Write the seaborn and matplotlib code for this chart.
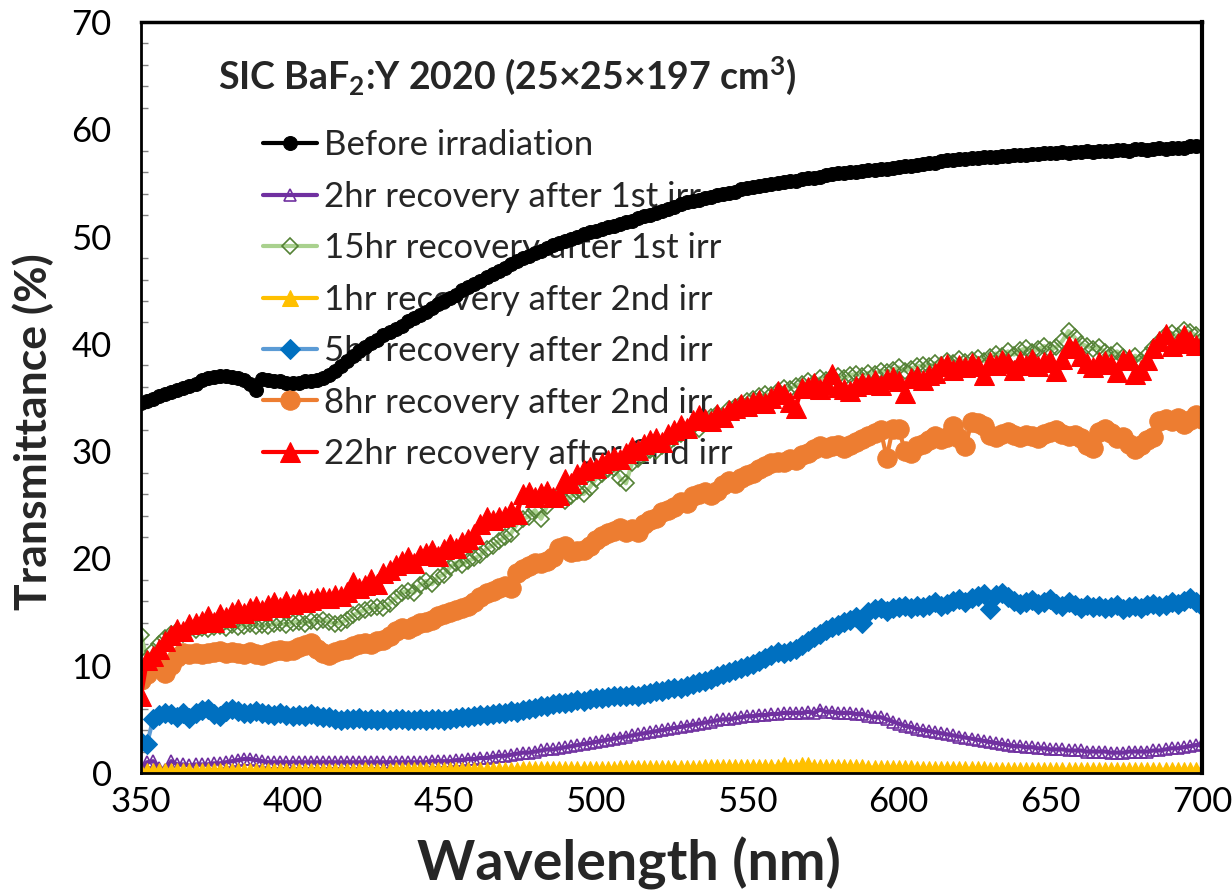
import numpy as np
import pandas as pd
import matplotlib
matplotlib.use("Agg")
import matplotlib.pyplot as plt
from matplotlib.ticker import MultipleLocator
import seaborn as sns

# ---------------- data (2 nm step, 350-700 nm) ----------------
wavelength = list(range(350, 701, 2))

before_irr = [
    34.5, 34.7, 34.9, 35.1, 35.3, 35.5, 35.7, 35.9, 36.1, 36.3,
    36.6, 36.8, 36.9, 37.0, 37.0, 36.9, 36.8, 36.6, 36.3, 35.7,
    36.7, 36.6, 36.5, 36.5, 36.4, 36.4, 36.4, 36.5, 36.5, 36.6,
    36.8, 37.1, 37.5, 37.9, 38.4, 38.9, 39.3, 39.7, 40.1, 40.4,
    40.8, 41.1, 41.4, 41.7, 42.1, 42.4, 42.7, 43.0, 43.3, 43.7,
    44.0, 44.3, 44.6, 45.0, 45.3, 45.6, 45.9, 46.2, 46.5, 46.8,
    47.1, 47.4, 47.7, 48.0, 48.2, 48.5, 48.7, 48.9, 49.2, 49.4,
    49.6, 49.8, 50.0, 50.2, 50.4, 50.5, 50.7, 50.9, 51.0, 51.2,
    51.4, 51.5, 51.7, 51.9, 52.0, 52.2, 52.4, 52.6, 52.8, 53.0,
    53.2, 53.3, 53.4, 53.6, 53.7, 53.9, 54.0, 54.1, 54.2, 54.4,
    54.5, 54.6, 54.7, 54.8, 54.9, 55.0, 55.1, 55.2, 55.2, 55.4,
    55.5, 55.5, 55.6, 55.7, 55.8, 55.9, 55.9, 56.0, 56.0, 56.1,
    56.2, 56.2, 56.3, 56.3, 56.4, 56.5, 56.6, 56.6, 56.7, 56.8,
    56.9, 56.9, 57.0, 57.1, 57.1, 57.2, 57.2, 57.3, 57.3, 57.4,
    57.4, 57.4, 57.5, 57.5, 57.6, 57.6, 57.6, 57.7, 57.7, 57.8,
    57.8, 57.8, 57.9, 57.8, 57.9, 57.9, 58.0, 57.9, 58.0, 58.0,
    58.0, 58.1, 58.1, 58.0, 58.2, 58.2, 58.1, 58.2, 58.3, 58.2,
    58.3, 58.3, 58.3, 58.4, 58.4, 58.4,
]

rec_2hr_1st = [
    0.3, 1.0, 1.1, 0.5, 0.3, 1.1, 0.8, 0.8, 0.7, 0.8,
    0.8, 0.8, 0.9, 0.9, 1.0, 1.1, 1.2, 1.3, 1.3, 1.2,
    1.1, 1.0, 1.0, 1.0, 1.0, 1.0, 1.0, 1.0, 1.0, 1.0,
    1.0, 1.0, 1.0, 1.0, 1.0, 1.0, 1.0, 1.0, 1.0, 1.0,
    1.0, 1.0, 1.0, 1.0, 1.0, 1.0, 1.0, 1.0, 1.1, 1.1,
    1.1, 1.1, 1.2, 1.2, 1.3, 1.3, 1.4, 1.4, 1.5, 1.6,
    1.6, 1.7, 1.8, 1.9, 1.9, 2.0, 2.1, 2.2, 2.2, 2.3,
    2.4, 2.5, 2.6, 2.7, 2.8, 2.9, 3.0, 3.1, 3.2, 3.3,
    3.4, 3.5, 3.6, 3.7, 3.8, 3.9, 4.0, 4.1, 4.2, 4.3,
    4.4, 4.5, 4.6, 4.7, 4.8, 4.9, 5.0, 5.0, 5.1, 5.2,
    5.3, 5.3, 5.4, 5.4, 5.5, 5.5, 5.6, 5.6, 5.6, 5.6,
    5.7, 5.6, 5.9, 5.7, 5.7, 5.6, 5.6, 5.6, 5.5, 5.5,
    5.3, 5.2, 5.2, 5.0, 4.8, 4.6, 4.4, 4.3, 4.1, 4.0,
    3.9, 3.8, 3.7, 3.6, 3.5, 3.4, 3.3, 3.2, 3.1, 3.0,
    2.9, 2.8, 2.7, 2.6, 2.5, 2.5, 2.4, 2.4, 2.3, 2.3,
    2.2, 2.2, 2.2, 2.1, 2.1, 2.1, 2.0, 2.0, 2.0, 2.0,
    1.9, 1.9, 1.9, 2.0, 2.0, 2.0, 2.0, 2.1, 2.1, 2.2,
    2.3, 2.3, 2.4, 2.5, 2.6, 2.7,
]

rec_15hr_1st = [
    12.9, 10.6, 11.4, 12.0, 12.6, 13.0, 13.2, 13.0, 13.4, 13.3,
    13.5, 13.4, 13.6, 13.7, 13.5, 13.8, 13.6, 13.7, 13.9, 13.7,
    13.8, 13.7, 13.9, 14.0, 13.8, 14.0, 14.1, 13.9, 14.2, 14.1,
    14.3, 14.1, 13.9, 14.0, 14.3, 14.7, 15.0, 15.2, 15.4, 15.5,
    15.4, 15.8, 16.3, 16.8, 17.0, 16.8, 17.5, 17.9, 17.6, 18.3,
    18.5, 19.2, 19.6, 19.4, 19.8, 20.0, 20.3, 20.9, 21.2, 21.6,
    22.0, 22.3, 23.2, 23.7, 23.9, 24.5, 23.7, 24.9, 25.5, 25.9,
    25.4, 25.8, 26.3, 26.0, 26.6, 27.4, 27.9, 28.3, 28.4, 27.5,
    27.0, 28.9, 29.3, 29.7, 30.1, 30.0, 30.5, 30.8, 31.2, 31.6,
    32.0, 32.3, 32.1, 32.8, 33.2, 33.5, 33.2, 33.9, 34.1, 34.4,
    34.7, 34.9, 35.1, 35.3, 35.2, 35.6, 35.9, 35.8, 36.1, 36.3,
    36.5, 36.4, 36.8, 36.6, 36.9, 37.0, 36.8, 37.1, 37.2, 37.0,
    37.3, 37.2, 37.5, 37.4, 37.6, 37.8, 37.5, 37.7, 37.9, 38.0,
    37.9, 38.2, 38.0, 38.4, 38.2, 38.6, 38.3, 38.5, 38.7, 38.4,
    38.8, 39.1, 38.9, 39.3, 39.0, 39.4, 39.6, 39.2, 39.5, 39.8,
    39.4, 39.7, 40.3, 41.2, 40.6, 40.0, 39.8, 39.5, 39.7, 39.2,
    39.0, 39.3, 38.8, 38.5, 38.9, 38.4, 39.0, 39.6, 40.2, 40.8,
    41.0, 40.7, 41.3, 41.1, 40.8, 40.4,
]

rec_1hr_2nd = [
    0.1, 0.2, 0.2, 0.2, 0.2, 0.2, 0.2, 0.2, 0.2, 0.2,
    0.2, 0.2, 0.2, 0.2, 0.2, 0.2, 0.2, 0.2, 0.2, 0.2,
    0.2, 0.2, 0.2, 0.2, 0.2, 0.2, 0.2, 0.2, 0.2, 0.2,
    0.2, 0.2, 0.2, 0.2, 0.2, 0.2, 0.2, 0.3, 0.2, 0.2,
    0.2, 0.2, 0.3, 0.3, 0.3, 0.3, 0.3, 0.3, 0.3, 0.3,
    0.3, 0.3, 0.3, 0.3, 0.3, 0.3, 0.3, 0.3, 0.3, 0.3,
    0.3, 0.3, 0.3, 0.4, 0.4, 0.4, 0.4, 0.4, 0.4, 0.4,
    0.4, 0.4, 0.4, 0.4, 0.4, 0.4, 0.4, 0.4, 0.4, 0.5,
    0.5, 0.5, 0.5, 0.5, 0.5, 0.5, 0.5, 0.5, 0.5, 0.5,
    0.5, 0.5, 0.5, 0.6, 0.6, 0.6, 0.6, 0.6, 0.6, 0.6,
    0.6, 0.6, 0.6, 0.6, 0.6, 0.6, 0.7, 0.6, 0.6, 0.7,
    0.7, 0.6, 0.6, 0.6, 0.6, 0.6, 0.6, 0.6, 0.6, 0.6,
    0.5, 0.5, 0.5, 0.5, 0.5, 0.5, 0.5, 0.5, 0.4, 0.4,
    0.4, 0.4, 0.4, 0.4, 0.4, 0.4, 0.4, 0.4, 0.4, 0.4,
    0.3, 0.3, 0.3, 0.3, 0.3, 0.3, 0.3, 0.3, 0.3, 0.3,
    0.3, 0.3, 0.3, 0.3, 0.3, 0.3, 0.3, 0.3, 0.3, 0.3,
    0.3, 0.3, 0.3, 0.3, 0.3, 0.3, 0.3, 0.3, 0.3, 0.3,
    0.3, 0.3, 0.3, 0.3, 0.3, 0.3,
]

rec_5hr_2nd = [
    2.9, 2.7, 5.0, 5.4, 5.6, 5.5, 5.2, 5.6, 5.1, 5.6,
    5.9, 6.0, 5.5, 5.3, 5.8, 6.0, 5.8, 5.6, 5.6, 5.8,
    5.6, 5.5, 5.4, 5.6, 5.4, 5.3, 5.4, 5.3, 5.5, 5.3,
    5.2, 5.2, 5.0, 4.9, 5.0, 5.0, 5.1, 4.9, 5.0, 4.9,
    5.0, 4.9, 5.0, 5.0, 4.9, 4.9, 5.0, 4.9, 5.0, 5.0,
    4.9, 5.0, 5.1, 5.2, 5.2, 5.3, 5.4, 5.4, 5.5, 5.6,
    5.6, 5.8, 5.7, 5.9, 6.0, 6.1, 6.2, 6.2, 6.4, 6.5,
    6.5, 6.6, 6.8, 6.7, 6.9, 7.0, 7.0, 7.1, 7.2, 7.2,
    7.2, 7.3, 7.2, 7.4, 7.5, 7.6, 7.6, 7.8, 7.9, 7.9,
    8.1, 8.3, 8.5, 8.6, 8.8, 9.0, 9.2, 9.4, 9.6, 9.8,
    10.0, 10.2, 10.4, 10.7, 11.0, 11.3, 11.2, 11.4, 11.6, 11.9,
    12.3, 12.7, 13.0, 13.3, 13.6, 13.8, 14.1, 14.3, 14.5, 14.0,
    15.0, 15.3, 15.4, 15.1, 15.4, 15.5, 15.6, 15.4, 15.6, 15.5,
    15.7, 15.9, 15.6, 15.8, 16.0, 16.2, 15.9, 16.3, 16.5, 16.7,
    15.3, 16.6, 16.8, 16.4, 16.0, 15.8, 15.9, 16.1, 15.8, 15.9,
    16.2, 15.8, 15.6, 15.9, 15.7, 15.4, 15.7, 15.5, 15.6, 15.4,
    15.5, 15.7, 15.3, 15.5, 15.6, 15.4, 15.7, 15.8, 15.6, 15.7,
    15.9, 15.8, 16.0, 16.3, 15.9, 15.6,
]

rec_8hr_2nd = [
    8.7, 9.2, 9.8, 10.0, 9.3, 10.1, 10.8, 11.2, 11.1, 11.2,
    11.1, 11.2, 11.3, 11.4, 11.2, 11.3, 11.2, 11.1, 11.3, 11.1,
    11.0, 11.2, 11.4, 11.5, 11.4, 11.5, 11.7, 11.9, 12.1, 11.6,
    11.2, 11.0, 11.3, 11.5, 11.6, 11.8, 12.0, 12.1, 12.0, 12.3,
    12.4, 12.8, 13.2, 13.5, 13.4, 13.7, 14.0, 14.1, 14.3, 14.6,
    14.8, 15.0, 15.2, 15.4, 15.6, 15.9, 16.4, 16.8, 17.0, 17.2,
    17.4, 17.2, 18.6, 19.0, 19.3, 19.6, 19.6, 19.8, 20.1, 21.0,
    21.2, 20.6, 20.7, 20.8, 21.2, 21.7, 22.1, 22.4, 22.6, 22.8,
    22.5, 22.7, 22.5, 23.2, 23.6, 23.8, 24.3, 24.5, 24.8, 25.3,
    25.2, 25.8, 26.0, 26.2, 25.9, 26.3, 26.8, 27.2, 27.0, 27.5,
    27.8, 28.0, 28.3, 28.6, 28.9, 29.0, 29.0, 29.3, 29.2, 29.6,
    29.8, 30.2, 30.5, 30.3, 30.5, 30.6, 30.3, 30.6, 30.9, 31.1,
    31.4, 31.7, 32.0, 29.4, 32.1, 32.1, 30.0, 29.8, 30.5, 30.7,
    31.0, 31.4, 31.1, 31.3, 32.3, 31.2, 30.5, 32.7, 32.6, 32.3,
    31.5, 31.3, 31.6, 31.8, 31.5, 31.3, 31.5, 31.4, 31.2, 31.6,
    31.8, 32.0, 31.6, 31.4, 31.5, 31.2, 30.6, 30.3, 31.8, 32.1,
    31.7, 31.2, 31.3, 30.7, 30.2, 30.6, 31.0, 31.3, 32.8, 33.0,
    32.8, 33.1, 32.5, 32.9, 33.4, 33.0,
]

rec_22hr_2nd = [
    7.2, 10.5, 10.9, 11.6, 12.3, 12.9, 13.4, 13.2, 13.9, 14.0,
    14.2, 14.6, 14.1, 14.8, 14.5, 15.0, 15.3, 14.9, 15.4, 15.6,
    15.2, 15.7, 15.9, 15.5, 16.0, 15.8, 16.2, 15.9, 16.1, 16.3,
    16.4, 16.3, 16.6, 16.5, 16.9, 17.8, 17.2, 17.5, 18.1, 17.6,
    18.6, 18.9, 19.4, 19.8, 20.1, 19.6, 20.3, 20.5, 20.8, 20.2,
    20.9, 21.3, 21.0, 21.5, 21.8, 22.3, 23.2, 23.9, 23.6, 23.9,
    24.0, 24.4, 24.1, 26.0, 26.2, 25.7, 26.1, 26.3, 25.7, 25.9,
    27.4, 27.0, 27.9, 28.2, 28.5, 28.4, 28.9, 29.2, 29.5, 29.3,
    29.8, 30.4, 30.1, 30.7, 31.0, 31.2, 30.9, 31.6, 32.0, 32.4,
    32.2, 32.9, 33.4, 33.0, 32.8, 33.5, 33.2, 33.8, 34.0, 34.4,
    34.2, 34.6, 34.8, 34.5, 35.0, 35.6, 35.3, 34.6, 34.0, 35.9,
    36.0, 36.4, 35.8, 36.3, 37.2, 36.0, 35.8, 35.6, 36.1, 36.4,
    36.3, 36.6, 36.2, 36.7, 36.9, 36.5, 35.4, 36.8, 37.0, 36.6,
    37.1, 37.3, 37.9, 38.1, 37.6, 38.0, 37.8, 38.2, 37.9, 37.1,
    38.3, 38.0, 38.5, 38.2, 37.6, 38.4, 38.0, 38.6, 37.9, 38.3,
    38.5, 37.5, 38.6, 39.8, 39.6, 38.9, 38.2, 37.8, 38.3, 38.4,
    38.1, 37.4, 38.5, 38.6, 37.2, 37.6, 38.5, 39.6, 40.3, 40.9,
    39.8, 40.1, 40.8, 40.3, 39.9, 40.0,
]

labels = [
    "Before irradiation",
    "2hr recovery after 1st irr",
    "15hr recovery after 1st irr",
    "1hr recovery after 2nd irr",
    "5hr recovery after 2nd irr",
    "8hr recovery after 2nd irr",
    "22hr recovery after 2nd irr",
]

title_text = r"SIC BaF$_\mathbf{2}$:Y 2020 (25×25×197 cm$^\mathbf{3}$)"
x_label = "Wavelength (nm)"
y_label = "Transmittance (%)"

# ---------------- style ----------------
sns.set_theme(style="white")
plt.rcParams["font.family"] = ["Lato", "DejaVu Sans"]
plt.rcParams["mathtext.fontset"] = "custom"
plt.rcParams["mathtext.rm"] = "Lato"
plt.rcParams["mathtext.bf"] = "Lato:bold"
plt.rcParams["mathtext.it"] = "Lato:italic"

fig = plt.figure(figsize=(12.32, 8.92), dpi=100)
ax = fig.add_axes([0.1144, 0.1334, 0.8612, 0.8419])

series = [before_irr, rec_2hr_1st, rec_15hr_1st, rec_1hr_2nd,
          rec_5hr_2nd, rec_8hr_2nd, rec_22hr_2nd]
styles = [
    dict(color="#000000", marker="o", markersize=10, markerfacecolor="#000000",
         markeredgecolor="#000000", linewidth=3),
    dict(color="#7030A0", marker="^", markersize=9, markerfacecolor="none",
         markeredgecolor="#7030A0", markeredgewidth=1.2, linewidth=3),
    dict(color="#A9D18E", marker="D", markersize=8, markerfacecolor="none",
         markeredgecolor="#548235", markeredgewidth=1.2, linewidth=3),
    dict(color="#FFC000", marker="^", markersize=11, markerfacecolor="#FFC000",
         markeredgecolor="#FFC000", linewidth=3),
    dict(color="#5B9BD5", marker="D", markersize=10.5, markerfacecolor="#0070C0",
         markeredgecolor="#0070C0", linewidth=3),
    dict(color="#ED7D31", marker="o", markersize=14, markerfacecolor="#ED7D31",
         markeredgecolor="#ED7D31", linewidth=3),
    dict(color="#FF0000", marker="^", markersize=14, markerfacecolor="#FF0000",
         markeredgecolor="#FF0000", linewidth=3),
]

for vals, lab, st in zip(series, labels, styles):
    df = pd.DataFrame({"wavelength": wavelength, "T": vals})
    sns.lineplot(data=df, x="wavelength", y="T", ax=ax, label=lab,
                 errorbar=None, sort=True, **st)

ax.set_xlim(350, 700)
ax.set_ylim(0, 70)
ax.xaxis.set_major_locator(MultipleLocator(50))
ax.yaxis.set_major_locator(MultipleLocator(10))
ax.yaxis.set_minor_locator(MultipleLocator(2))

ax.tick_params(axis="both", which="major", direction="in", length=7, width=1,
               color="#808080", labelsize=25, labelcolor="black")
ax.tick_params(axis="y", which="major", pad=21)
ax.tick_params(axis="x", which="major", pad=9)
ax.tick_params(axis="y", which="minor", direction="in", length=5, width=1,
               color="#808080", left=True)
ax.tick_params(axis="x", which="minor", bottom=False)

for side in ["left", "right", "top", "bottom"]:
    ax.spines[side].set_visible(True)
    ax.spines[side].set_color("black")
ax.spines["left"].set_linewidth(2)
ax.spines["top"].set_linewidth(2.5)
ax.spines["right"].set_linewidth(3)
ax.spines["bottom"].set_linewidth(2)

ax.set_xlabel(x_label, fontsize=40, fontweight="bold")
ax.set_ylabel(y_label, fontsize=32, fontweight="bold")
ax.xaxis.label.set_va("center")
ax.yaxis.label.set_va("center")
ax.xaxis.set_label_coords(0.46, -0.121)
ax.yaxis.set_label_coords(-0.102, 0.454)

ax.text(0.0726, 0.929, title_text, transform=ax.transAxes, fontsize=27,
        fontweight="bold", ha="left", va="center")

leg = ax.legend(loc="upper left", bbox_to_anchor=(0.115, 0.857), frameon=False,
                fontsize=25, borderpad=0, handlelength=1.55, handletextpad=0.2,
                labelspacing=0.56, borderaxespad=0)
leg.set_zorder(1)

fig.savefig("out.png", dpi=100)
